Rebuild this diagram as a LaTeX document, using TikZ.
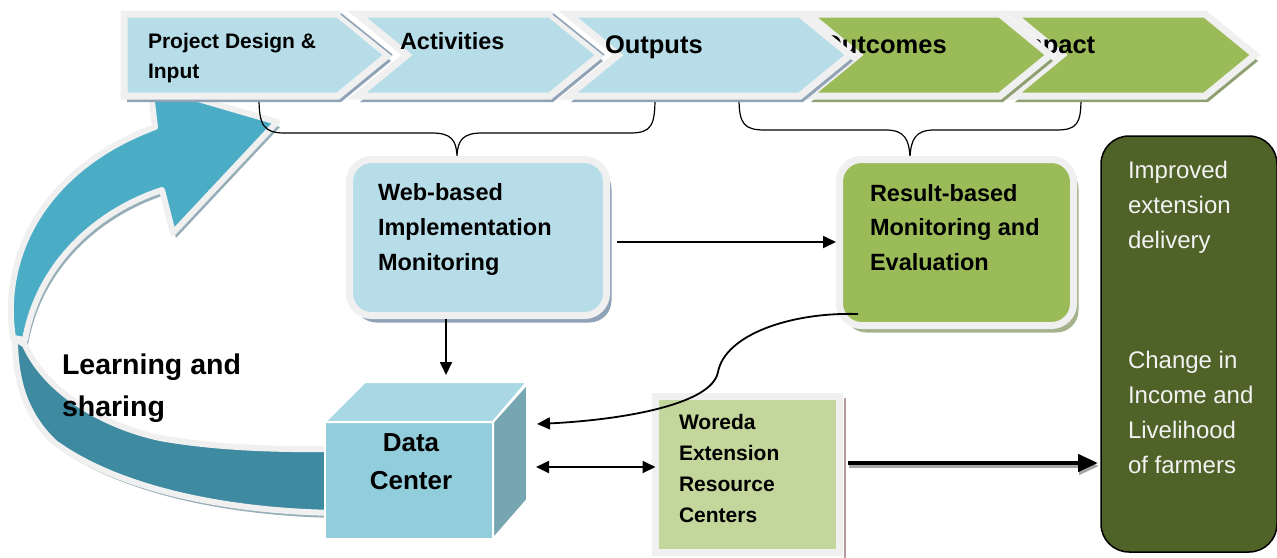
\documentclass[tikz,border=0pt]{standalone}
\usepackage{fontspec}
\setmainfont{Liberation Sans}
\usetikzlibrary{arrows.meta,calc,shadows}
\definecolor{lblue}{HTML}{B7DDE8}
\definecolor{lgreen}{HTML}{9BBB59}
\definecolor{framegray}{HTML}{F0F0F0}
\definecolor{bshadow}{HTML}{8FA2B6}
\definecolor{gshadow}{HTML}{8E9F72}
\definecolor{arrowup}{HTML}{4BACC6}
\definecolor{arrowlow}{HTML}{3E8AA0}
\definecolor{arrowshadow}{HTML}{95AEB8}
\definecolor{cubefront}{HTML}{92CDDC}
\definecolor{cubetop}{HTML}{A9D8E4}
\definecolor{cuberight}{HTML}{76A6B1}
\definecolor{woredagreen}{HTML}{C3D69B}
\definecolor{darkgreen}{HTML}{4F6228}
\definecolor{lighttext}{HTML}{F2F2F2}
\definecolor{brownline}{HTML}{B59A9A}
\newcommand\mylines[2]{\parbox[t]{#1}{\raggedright #2}}
\begin{document}
\begin{tikzpicture}[x=1pt,y=-1pt,
  chevron/.style={line width=7pt, draw=framegray, line join=miter},
  band/.style={line width=6pt, draw=framegray, line join=round},
  lbl/.style={anchor=base west, inner sep=0pt, outer sep=0pt},
  arr/.style={line width=1.8pt, -{Triangle[length=13pt,width=12pt]}},
  darr/.style={line width=1.8pt, {Triangle[length=13pt,width=12pt]}-{Triangle[length=13pt,width=12pt]}},
  brace/.style={line width=1.2pt, draw=black}
]
\useasboundingbox (0,0) rectangle (1277,557);

% ---------- big curved arrow (Learning and sharing) ----------
\begin{scope}[shift={(3,5)}]
  \fill[arrowshadow] (13,338) .. controls (0,255) and (45,168) .. (155,127) -- (150,85) -- (277,122) -- (173,233) -- (162,190) .. controls (95,212) and (38,265) .. (25,340) -- cycle;
  \fill[arrowshadow] (340,513) .. controls (230,512) and (120,490) .. (55,443) .. controls (25,415) and (15,380) .. (15,338) -- (25,345) .. controls (45,390) and (100,425) .. (160,438) .. controls (210,447) and (270,450) .. (340,449) -- cycle;
\end{scope}
\draw[band, fill=arrowup] (13,338) .. controls (0,255) and (45,168) .. (155,127) -- (150,85) -- (277,122) -- (173,233) -- (162,190) .. controls (95,212) and (38,265) .. (25,340) -- cycle;
\draw[band, fill=arrowlow] (340,513) .. controls (230,512) and (120,490) .. (55,443) .. controls (25,415) and (15,380) .. (15,338) -- (25,345) .. controls (45,390) and (100,425) .. (160,438) .. controls (210,447) and (270,450) .. (340,449) -- cycle;
\node[lbl, font=\bfseries\fontsize{28.5}{42}\selectfont] (learn) at (62,374) {\mylines{250pt}{Learning and\\sharing}};

% ---------- braces ----------
\draw[brace] (259,98) .. controls (259,126) and (264,133) .. (285,133) -- (432,133) .. controls (451,133) and (456,140) .. (457,155) .. controls (458,140) and (463,133) .. (482,133) -- (630,133) .. controls (651,133) and (655,126) .. (655,98);
\draw[brace] (739,98) .. controls (739,124) and (744,130) .. (765,130) -- (886,130) .. controls (905,130) and (909,140) .. (910,157) .. controls (911,140) and (915,130) .. (934,130) -- (1056,130) .. controls (1077,130) and (1081,124) .. (1081,98);

% ---------- banner chevrons ----------
% Impact
\fill[gshadow] (1015,20) -- (1208,20) -- (1258,61) -- (1208,102) -- (1015,102) -- (1065,61) -- cycle;
\draw[chevron, fill=lgreen] (1012,14) -- (1205,14) -- (1255,55) -- (1205,96) -- (1012,96) -- (1062,55) -- cycle;
\node[lbl, font=\bfseries\fontsize{25.5}{30}\selectfont] (impact) at (1013,53) {Impact};
% Outcomes
\fill[gshadow] (811,20) -- (1003,20) -- (1053,61) -- (1003,102) -- (811,102) -- (861,61) -- cycle;
\draw[chevron, fill=lgreen] (808,14) -- (1000,14) -- (1050,55) -- (1000,96) -- (808,96) -- (858,55) -- cycle;
\node[lbl, font=\bfseries\fontsize{25.5}{30}\selectfont] (outcomes) at (822,53) {Outcomes};
% Outputs
\fill[bshadow] (571,20) -- (803,20) -- (853,61) -- (803,102) -- (571,102) -- (621,61) -- cycle;
\draw[chevron, fill=lblue] (568,14) -- (800,14) -- (850,55) -- (800,96) -- (568,96) -- (618,55) -- cycle;
% Activities
\fill[bshadow] (360,20) -- (553,20) -- (603,61) -- (553,102) -- (360,102) -- (410,61) -- cycle;
\draw[chevron, fill=lblue] (357,14) -- (550,14) -- (600,55) -- (550,96) -- (357,96) -- (407,55) -- cycle;
\draw[bshadow, line width=1.5pt] (553,14) -- (604,55);
% Project design
\fill[bshadow] (127,20) -- (341,20) -- (391,61) -- (341,102) -- (127,102) -- cycle;
\draw[chevron, fill=lblue] (124,14) -- (338,14) -- (388,55) -- (338,96) -- (124,96) -- cycle;
\draw[bshadow, line width=1.5pt] (341,14) -- (392,55);
\node[lbl, font=\bfseries\fontsize{21}{30}\selectfont] (design) at (148,48) {\mylines{200pt}{Project Design \&\\Input}};
\node[lbl, font=\bfseries\fontsize{23.5}{30}\selectfont] (activities) at (400,49) {Activities};
\node[lbl, font=\bfseries\fontsize{25.5}{30}\selectfont] (outputs) at (605,53) {Outputs};

% ---------- web-based box ----------
\node[draw=framegray, line width=7pt, fill=lblue, rounded corners=22pt, minimum width=257pt, minimum height=156pt, outer sep=0pt, inner sep=0pt,
  drop shadow={shadow xshift=5pt, shadow yshift=-7pt, fill=bshadow, opacity=1}] (web) at (478,237.5) {};
\node[lbl, font=\bfseries\fontsize{23.5}{35}\selectfont] (webtxt) at (378,200) {\mylines{240pt}{Web-based\\Implementation\\Monitoring}};

% ---------- result-based box ----------
\node[draw=framegray, line width=7pt, fill=lgreen, rounded corners=22pt, minimum width=234pt, minimum height=166pt, outer sep=0pt, inner sep=0pt,
  drop shadow={shadow xshift=5pt, shadow yshift=-7pt, fill=gshadow!80!white, opacity=1}] (res) at (956.5,242.5) {};
\node[lbl, font=\bfseries\fontsize{23.5}{34.5}\selectfont] (restxt) at (870,201) {\mylines{220pt}{Result-based\\Monitoring and\\Evaluation}};

% ---------- data center cube ----------
\node[fill=cubefront, draw=white, line width=2pt, minimum width=168pt, minimum height=117pt, outer sep=0pt, inner sep=0pt] (dc) at (409,480.5) {};
\draw[fill=cubetop, draw=white, line width=2pt, line join=round] (dc.north west) -- (365,382) -- (527,382) -- (dc.north east) -- cycle;
\draw[fill=cuberight, draw=white, line width=2pt, line join=round] (dc.north east) -- (527,384) -- (527,500) -- (dc.south east) -- cycle;
\node[anchor=base, inner sep=0pt, font=\bfseries\fontsize{26}{38}\selectfont] (dctxt) at (411,451) {\parbox[t]{140pt}{\centering Data\\Center}};

% ---------- woreda box ----------
\node[draw=framegray, line width=7pt, fill=woredagreen, minimum width=184pt, minimum height=156pt, outer sep=0pt, inner sep=0pt] (wor) at (747.5,474.5) {};
\draw[brownline, line width=2pt] ($(wor.north east)+(5.5,1.5)$) -- ($(wor.south east)+(5.5,5)$);
\node[lbl, font=\bfseries\fontsize{21}{31.3}\selectfont] (wortxt) at (679,429) {\mylines{160pt}{Woreda\\Extension\\Resource\\Centers}};

% ---------- right outcome box ----------
\node[draw=black, line width=1.5pt, fill=darkgreen, rounded corners=28pt, minimum width=176pt, minimum height=416pt, outer sep=0pt, inner sep=0pt] (rbox) at (1189,344) {};
\node[lbl, text=lighttext, font=\fontsize{24}{35}\selectfont] (rtxt1) at (1128,178) {\mylines{150pt}{Improved\\extension\\delivery}};
\node[lbl, text=lighttext, font=\fontsize{24}{35}\selectfont] (rtxt2) at (1128,368) {\mylines{150pt}{Change in\\Income and\\Livelihood\\of farmers}};

% ---------- connectors ----------
\draw[arr] ($(web.east)+(10.5,4.5)$) -- ($(res.west)+(-3.5,-0.5)$);
\draw[arr] ($(web.south)+(-32,3.5)$) -- ($(dc.north)+(37,-47)$);
\draw[arr] ($(res.south west)+(18.5,-11.5)$) .. controls (790,312) and (725,335) .. (718,372) .. controls (712,405) and (620,420) .. ($(dc.east)+(44,-56.5)$);
\draw[darr] ($(dc.east)+(43,-13.5)$) -- ($(wor.west)+(0,-7.5)$);
\draw[gray!70, line width=4.5pt, -{Triangle[length=20pt,width=17pt]}] ($(wor.east)+(9.5,-8.5)$) -- ($(rbox.west)+(-2,122)$);
\draw[black, line width=4.5pt, -{Triangle[length=20pt,width=17pt]}] ($(wor.east)+(8.5,-11.5)$) -- ($(rbox.west)+(-3,119)$);
\end{tikzpicture}
\end{document}
